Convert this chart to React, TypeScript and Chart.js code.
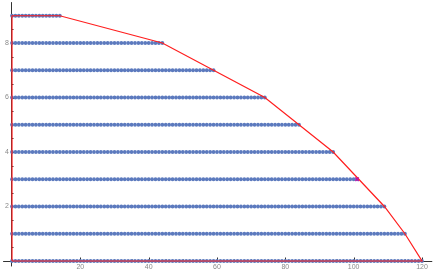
import React, { useEffect, useRef } from "react";
import { Chart, registerables } from "chart.js";

Chart.register(...registerables);

// Row extents: for each level y (0..9) the lattice points run x = 0..rowEnd
const rowLevels = [0, 1, 2, 3, 4, 5, 6, 7, 8, 9];
const rowEnds = [120, 115, 109, 101, 94, 84, 74, 59, 44, 14];

// Red envelope polygon
const hullX = [0, 0, 14, 44, 74, 94, 109, 115, 120, 0];
const hullY = [0, 9, 9, 8, 6, 4, 2, 1, 0, 0];

// Marked point
const markX = [101];
const markY = [3];

// Tick labels
const xTickLabels = [20, 40, 60, 80, 100, 120];
const yTickLabels = [2, 4, 6, 8];
const xMinorStep = 5;
const yMinorStep = 0.5;

const X_MIN = -3.512;
const X_MAX = 124.1;
const Y_MIN = -0.367;
const Y_MAX = 9.578;

export default function App() {
  const ref = useRef<HTMLCanvasElement | null>(null);

  useEffect(() => {
    if (!ref.current) return;

    const lattice: { x: number; y: number }[] = [];
    rowLevels.forEach((lv, i) => {
      for (let x = 0; x <= rowEnds[i]; x++) lattice.push({ x, y: lv });
    });

    const axesPlugin = {
      id: "mmaAxes",
      beforeDatasetsDraw(chart: any) {
        const ctx = chart.ctx;
        const xs = chart.scales.x;
        const ys = chart.scales.y;
        const x0 = xs.getPixelForValue(0) - 1;
        const y0 = ys.getPixelForValue(0);
        ctx.save();
        ctx.strokeStyle = "#333";
        ctx.lineWidth = 1;
        // x axis
        ctx.beginPath();
        ctx.moveTo(xs.getPixelForValue(-2.6), Math.round(y0) + 0.5);
        ctx.lineTo(xs.getPixelForValue(123), Math.round(y0) + 0.5);
        ctx.stroke();
        // y axis
        ctx.beginPath();
        ctx.moveTo(Math.round(x0) + 0.5, ys.getPixelForValue(9.5));
        ctx.lineTo(Math.round(x0) + 0.5, ys.getPixelForValue(-0.2));
        ctx.stroke();
        // x ticks
        for (let v = xMinorStep; v <= 120; v += xMinorStep) {
          const px = Math.round(xs.getPixelForValue(v)) + 0.5;
          const major = v % 20 === 0;
          ctx.beginPath();
          ctx.moveTo(px, Math.round(y0) + 0.5);
          ctx.lineTo(px, Math.round(y0) + 0.5 - (major ? 4 : 2));
          ctx.stroke();
        }
        // y ticks
        for (let v = yMinorStep; v <= 9; v += yMinorStep) {
          const py = Math.round(ys.getPixelForValue(v)) + 0.5;
          const major = v % 2 === 0;
          ctx.beginPath();
          ctx.moveTo(Math.round(x0) + 0.5, py);
          ctx.lineTo(Math.round(x0) + 0.5 + (major ? 4 : 2), py);
          ctx.stroke();
        }
        // labels
        ctx.fillStyle = "#8a8a8a";
        ctx.font = "7px 'Liberation Sans', Arial, sans-serif";
        ctx.textAlign = "center";
        ctx.textBaseline = "top";
        xTickLabels.forEach((v) => {
          ctx.fillText(String(v), xs.getPixelForValue(v), y0 + 3);
        });
        ctx.textAlign = "right";
        ctx.textBaseline = "middle";
        yTickLabels.forEach((v) => {
          ctx.fillText(String(v), x0 - 2, ys.getPixelForValue(v));
        });
        ctx.restore();
      },
    };

    const chart = new Chart(ref.current, {
      type: "scatter",
      data: {
        datasets: [
          {
            label: "points",
            data: lattice,
            pointRadius: 1.9,
            pointBorderWidth: 0,
            pointBackgroundColor: "rgb(92,122,190)",
            pointBorderColor: "rgb(92,122,190)",
            showLine: false,
            clip: false,
            order: 3,
          } as any,
          {
            label: "hull",
            data: hullX.map((x, i) => ({ x, y: hullY[i] })),
            showLine: true,
            borderColor: "rgb(255,30,30)",
            borderWidth: 1.2,
            pointRadius: 0,
            fill: false,
            clip: false,
            order: 2,
          } as any,
          {
            label: "mark",
            data: markX.map((x, i) => ({ x, y: markY[i] })),
            pointStyle: "crossRot",
            pointRadius: 2.5,
            pointBorderWidth: 1.2,
            pointBorderColor: "rgb(190,20,170)",
            pointBackgroundColor: "rgb(190,20,170)",
            showLine: false,
            clip: false,
            order: 1,
          } as any,
        ],
      },
      options: {
        animation: false,
        responsive: false,
        devicePixelRatio: 1,
        layout: { padding: 0, autoPadding: false },
        plugins: {
          legend: { display: false },
          tooltip: { enabled: false },
        },
        scales: {
          x: { type: "linear", min: X_MIN, max: X_MAX, display: false },
          y: { type: "linear", min: Y_MIN, max: Y_MAX, display: false },
        },
      },
      plugins: [axesPlugin],
    });
    return () => chart.destroy();
  }, []);

  return (
    <div style={{ position: "fixed", left: 0, top: 0, width: 436, height: 271, background: "#fff" }}>
      <canvas ref={ref} width={436} height={271} style={{ display: "block" }} />
    </div>
  );
}
